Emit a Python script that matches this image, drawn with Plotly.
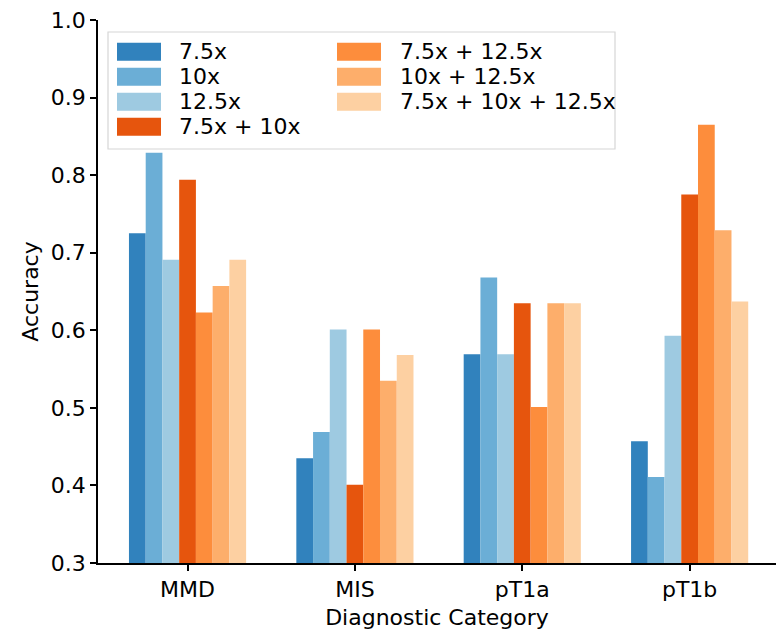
import plotly.graph_objects as go

categories = ["MMD", "MIS", "pT1a", "pT1b"]
series_names = ["7.5x", "10x", "12.5x", "7.5x + 10x", "7.5x + 12.5x", "10x + 12.5x", "7.5x + 10x + 12.5x"]
acc_7_5 = [0.725, 0.435, 0.569, 0.457]
acc_10 = [0.829, 0.469, 0.668, 0.411]
acc_12_5 = [0.691, 0.601, 0.569, 0.593]
acc_7_5_10 = [0.794, 0.401, 0.635, 0.775]
acc_7_5_12_5 = [0.623, 0.601, 0.501, 0.865]
acc_10_12_5 = [0.657, 0.535, 0.635, 0.729]
acc_all = [0.691, 0.568, 0.635, 0.637]
colors = ["#3182bd", "#6baed6", "#9ecae1", "#e6550d", "#fd8d3c", "#fdae6b", "#fdd0a2"]

series = [acc_7_5, acc_10, acc_12_5, acc_7_5_10, acc_7_5_12_5, acc_10_12_5, acc_all]

# plot area in pixels
L, R, T, B = 98, 776, 20, 563
W, H = R - L, B - T

def px(x):
    return (x - L) / W

def py(y):
    return 1 - (y - T) / H

fig = go.Figure()
for name, vals, col in zip(series_names, series, colors):
    fig.add_trace(go.Bar(
        x=list(range(len(categories))), y=vals, name=name,
        marker=dict(color=col, line=dict(width=0)),
    ))

font = dict(family="DejaVu Sans", size=22, color="black")

shapes = [dict(type="rect", xref="paper", yref="paper",
               x0=px(108), x1=px(615), y0=py(149), y1=py(32),
               line=dict(color="#d6d6d6", width=1.2),
               fillcolor="rgba(255,255,255,0.8)", layer="above")]
annotations = []
for i, (name, col) in enumerate(zip(series_names, colors)):
    colx = 0 if i < 4 else 1
    row = i if i < 4 else i - 4
    sx0 = 117 if colx == 0 else 337
    tx = 177 if colx == 0 else 398
    cy = 51.7 + 25 * row
    shapes.append(dict(type="rect", xref="paper", yref="paper",
                       x0=px(sx0), x1=px(sx0 + 44), y0=py(cy + 9), y1=py(cy - 9),
                       line=dict(width=0), fillcolor=col, layer="above"))
    annotations.append(dict(xref="paper", yref="paper", x=px(tx), y=py(cy),
                            xanchor="left", yanchor="middle", text=name,
                            showarrow=False, font=font))

fig.update_layout(
    width=776, height=633,
    margin=dict(l=L, r=0, t=T, b=633 - B),
    paper_bgcolor="white", plot_bgcolor="white",
    barmode="group", bargap=0.3, bargroupgap=0,
    font=font, showlegend=False,
    xaxis=dict(
        range=[-0.535, 3.516], tickmode="array", tickvals=list(range(len(categories))),
        ticktext=categories, showline=True, linecolor="black", linewidth=1.5,
        ticks="outside", ticklen=6, tickwidth=1.5, tickcolor="black",
        showgrid=False, zeroline=False, automargin=False,
        title=dict(text="Diagnostic Category", font=font, standoff=8),
        tickfont=font,
    ),
    yaxis=dict(
        range=[0.3, 1.0], tickmode="array", tickvals=[0.3, 0.4, 0.5, 0.6, 0.7, 0.8, 0.9, 1.0],
        ticktext=["0.3", "0.4", "0.5", "0.6", "0.7", "0.8", "0.9", "1.0"],
        showline=True, linecolor="black", linewidth=1.5,
        ticks="outside", ticklen=6, tickwidth=1.5, tickcolor="black",
        showgrid=False, zeroline=False, automargin=False,
        title=dict(text="Accuracy", font=font, standoff=6),
        tickfont=font,
    ),
    shapes=shapes,
    annotations=annotations,
)
fig.write_html("out.html", config={"displayModeBar": False},
               post_script="document.body.style.margin='0';document.body.style.overflow='hidden';")
